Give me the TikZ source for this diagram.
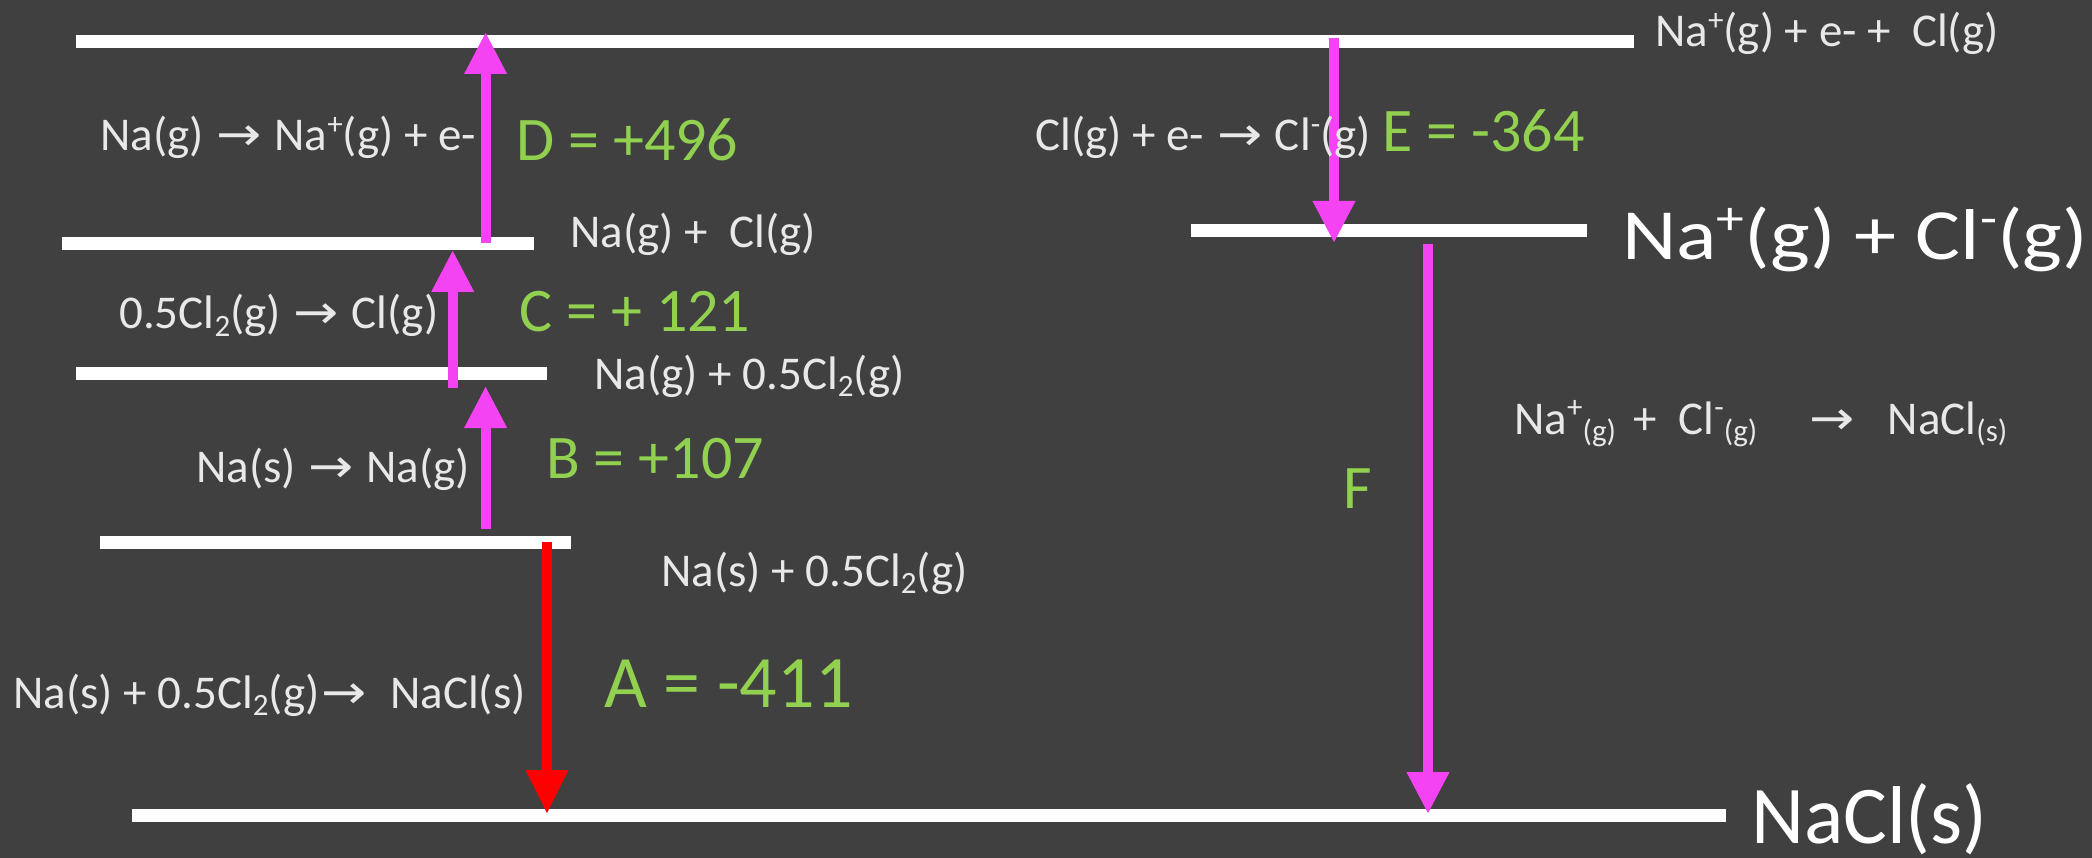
\documentclass[tikz,border=0pt]{standalone}
\usepackage{fontspec}
\setmainfont{Carlito}
\newfontfamily\dvfont{DejaVu Sans}
\usetikzlibrary{arrows.meta}
\definecolor{bgc}{RGB}{64,64,64}
\definecolor{magc}{RGB}{243,67,243}
\definecolor{grnc}{RGB}{146,208,80}
\definecolor{lblc}{RGB}{232,232,232}
\newcommand\sps[1]{\raisebox{0.36em}{\scalebox{0.66}{#1}}}
\newcommand\sbs[1]{\raisebox{-0.16em}{\scalebox{0.66}{#1}}}
\newcommand\rarr{\hbox to 1.05em{\hss\scalebox{1.15}[1]{\dvfont →}\hss}}
\begin{document}
\begin{tikzpicture}[x=1pt,y=-1pt,
  levelbar/.style={fill=white, draw=none, rectangle, minimum height=13pt, inner sep=0pt, outer sep=0pt, anchor=west},
  lbl/.style={anchor=base west, inner sep=0pt, text=lblc, font=\fontsize{47}{54}\selectfont},
  val/.style={anchor=base west, inner sep=0pt, text=grnc, font=\fontsize{62}{70}\selectfont},
  magarrow/.style={line width=10pt, draw=magc, -{Triangle[width=40pt,length=42pt]}},
  redarrow/.style={line width=10pt, draw=red, -{Triangle[width=40pt,length=44pt]}},
]
\useasboundingbox (0,0) rectangle (2092,858);
\fill[bgc] (0,0) rectangle (2092,858);

% energy levels
\node[levelbar, minimum width=1558pt] (L5) at (76,41.5) {};
\node[levelbar, minimum width=472pt] (L4) at (62,243.5) {};
\node[levelbar, minimum width=471pt] (L3) at (76,373.5) {};
\node[levelbar, minimum width=471pt] (L2) at (100,542.5) {};
\node[levelbar, minimum width=1594pt] (L1) at (132,815.5) {};
\node[levelbar, minimum width=396pt] (LI) at (1191,230.5) {};

% arrow end points
\coordinate (d0) at (485.6,243);
\coordinate (d1) at (485.6,32);
\coordinate (c0) at (452.7,388);
\coordinate (c1) at (452.7,250);
\coordinate (b0) at (485.6,529);
\coordinate (b1) at (485.6,386);
\coordinate (a0) at (547,542);
\coordinate (a1) at (547,814);
\coordinate (e0) at (1334,38);
\coordinate (e1) at (1334,243);
\coordinate (f0) at (1428,244);
\coordinate (f1) at (1428,814);

\draw[magarrow] (d0) -- (d1);
\draw[magarrow] (c0) -- (c1);
\draw[magarrow] (b0) -- (b1);
\draw[redarrow] (a0) -- (a1);
\draw[magarrow] (e0) -- (e1);
\draw[magarrow] (f0) -- (f1);

% labels
\node[lbl] (t1) at (1655,47) {Na\sps{+}(g) + e- +\ \ Cl(g)};
\node[lbl] (t2) at (100,151) {Na(g) \rarr{} Na\sps{+}(g) + e-};
\node[val] (vD) at (516,161) {D = +496};
\node[lbl] (t3) at (1035,151) {Cl(g) + e- \rarr{} Cl\sps{-}(g)};
\node[val] (vE) at (1382,152) {E = -364};
\node[lbl] (t4) at (570,248) {Na(g) +\ \ Cl(g)};
\node[lbl, text=white, font=\fontsize{72}{80}\selectfont] (t5) at (1622,260) {\scalebox{1.17}[1]{Na\sps{+}(g) + Cl\sps{-}(g)}};
\node[lbl] (t6) at (119,329) {0.5Cl\sbs{2}(g) \rarr{} Cl(g)};
\node[val] (vC) at (519,331) {C = + 121};
\node[lbl] (t7) at (594,389) {Na(g) + 0.5Cl\sbs{2}(g)};
\node[lbl] (t8) at (1514,434) {Na\sps{+}\sbs{(g)}\hspace{17pt}+\hspace{22pt}Cl\sps{-}\sbs{(g)}\hspace{50pt}\rarr\hspace{31pt}NaCl\sbs{(s)}};
\node[lbl] (t9) at (196,482) {Na(s) \rarr{} Na(g)};
\node[val] (vB) at (546,478) {B = +107};
\node[lbl] (t10) at (661,586) {Na(s) + 0.5Cl\sbs{2}(g)};
\node[lbl] (t11) at (13,708) {Na(s) + 0.5Cl\sbs{2}(g)\rarr{}\ \ NaCl(s)};
\node[val, font=\fontsize{74}{80}\selectfont] (vA) at (604,707) {A = -411};
\node[val] (vF) at (1343,508) {F};
\node[lbl, text=white, font=\fontsize{82}{90}\selectfont] (t12) at (1751,843) {NaCl(s)};
\end{tikzpicture}
\end{document}
